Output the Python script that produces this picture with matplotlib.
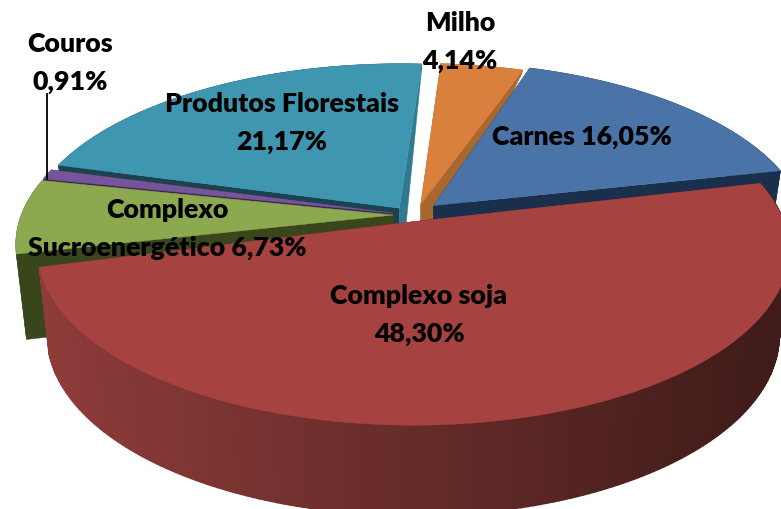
import numpy as np
import matplotlib
matplotlib.use("Agg")
import matplotlib.pyplot as plt
from matplotlib.colors import to_rgb

names = ["Complexo soja", "Complexo\nSucroenergético", "Couros", "Produtos Florestais", "Milho", "Carnes"]
values = [48.30, 6.73, 0.91, 21.17, 4.14, 16.05]

top_colors = ["#A64341", "#8CA94F", "#76559A", "#3F96B0", "#D9803C", "#4A74A8"]
start_walls = ["#5A2523", "#39461C", "#3D2A55", "#1B424F", "#A7672F", "#1A2F4C"]
end_walls = ["#5A2523", "#39461C", "#3D2A55", "#2F7A90", "#A7672F", "#1A2F4C"]
explode = [0.04, 0.045, 0.045, 0.05, 0.065, 0.085]
# small per slice corrections, the original has a skewed 3d view
radius = [0.99, 1, 1, 1, 0.98, 1]
turn = [-2, 0, 0, 0, 0, -1]
shift_x = [0, 0, 0, 0, 6, 0]

# projection of the pie disc
CX, CY = 410, 216
RX, RY = 372, 170
P = 0.163
START = -11.5


def project(u, v):
    w = 1 - P * v
    return CX + RX * u / w, CY + RY * v / w


def drop(v):
    # the wall gets taller towards the viewer, almost nothing at the back
    return np.where(v < 0, 6 + 78 * (1 + np.maximum(v, -1)), 84 + 6 * v)


def bottom(u, v):
    x, y = project(u, v)
    return x + (CX - x) * 0.026, y + drop(v)


fig = plt.figure(figsize=(7.81, 5.10), dpi=100)
ax = fig.add_axes([0, 0, 1, 1])
ax.set_xlim(0, 781)
ax.set_ylim(510, 0)
ax.axis("off")

# angles of the slices
sweeps = np.array(values) / sum(values) * 360
starts = START + np.concatenate([[0], np.cumsum(sweeps)[:-1]])

slices = []
for i in range(len(values)):
    mid = np.radians(starts[i] + sweeps[i] / 2)
    ox, oy = explode[i] * np.cos(mid), explode[i] * np.sin(mid)
    t = np.radians(np.linspace(starts[i], starts[i] + sweeps[i], 200) + turn[i])
    slices.append((ox, oy, ox + radius[i] * np.cos(t), oy + radius[i] * np.sin(t)))

soy_dark_l = to_rgb("#8E3C3A")
soy_dark_r = to_rgb("#3F1B19")

# back to front
for i in [3, 4, 5, 2, 1, 0]:
    ox, oy, u, v = slices[i]
    tx, ty = project(u, v)
    bx, by = bottom(u, v)
    ax0, ay0 = project(ox, oy)
    bx0, by0 = bottom(np.array(ox), np.array(oy))
    tx, bx = tx + shift_x[i], bx + shift_x[i]
    ax0, bx0 = ax0 + shift_x[i], bx0 + shift_x[i]

    # cut faces
    ax.fill([ax0, tx[0], bx[0], bx0], [ay0, ty[0], by[0], by0], color=start_walls[i], lw=0.3)
    ax.fill([ax0, tx[-1], bx[-1], bx0], [ay0, ty[-1], by[-1], by0], color=end_walls[i], lw=0.3)

    # outer wall
    if i == 0:
        for j in range(len(u) - 1):
            f = 1 - (tx[j] - 40) / 741
            f = min(max(f, 0), 1)
            c = tuple(soy_dark_r[k] + (soy_dark_l[k] - soy_dark_r[k]) * f for k in range(3))
            ax.fill([tx[j], tx[j + 1], bx[j + 1], bx[j]], [ty[j], ty[j + 1], by[j + 1], by[j]],
                    color=c, lw=1.2)
    else:
        ax.fill(np.r_[tx, bx[::-1]], np.r_[ty, by[::-1]], color=start_walls[i], lw=0.3)

    ax.fill(np.r_[ax0, tx], np.r_[ay0, ty], color=top_colors[i], lw=0.3)

# leader line of the small slice
ax.plot([47, 47], [95, 180], color="black", lw=1.3)


def pct(x):
    return f"{x:.2f}%".replace(".", ",")


label_style = dict(family="Lato", fontweight="heavy", fontsize=19.3, color="black",
                   ha="center", va="center", linespacing=1.65)
label_pos = [(419, 315), (167, 229), (70, 63), (282, 123), (460, 42), (582, 137)]
label_text = [
    names[0] + "\n" + pct(values[0]),
    names[1] + " " + pct(values[1]),
    names[2] + "\n" + pct(values[2]),
    names[3] + "\n" + pct(values[3]),
    names[4] + "\n" + pct(values[4]),
    names[5] + " " + pct(values[5]),
]
for (x, y), s in zip(label_pos, label_text):
    ax.text(x, y, s, **label_style)

fig.savefig("out.png", dpi=100)
